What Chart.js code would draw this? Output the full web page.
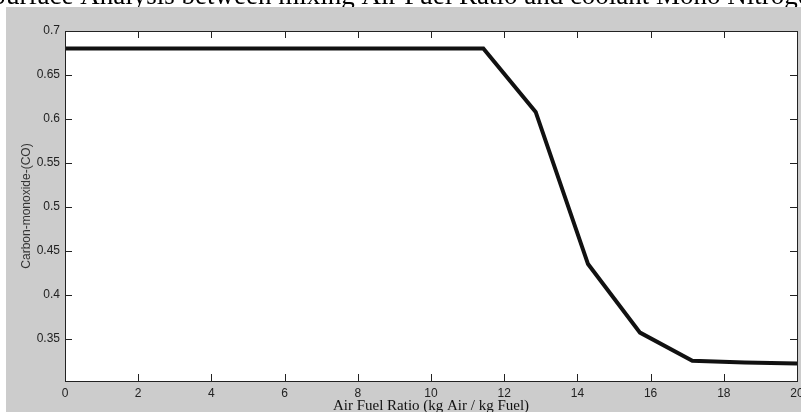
<!DOCTYPE html>
<html>
<head>
<meta charset="utf-8">
<script src="https://cdn.jsdelivr.net/npm/chart.js@4/dist/chart.umd.min.js"></script>
<style>
  html, body { margin: 0; padding: 0; background: #fff; }
  #wrap { position: relative; width: 801px; height: 412px; }
</style>
</head>
<body>
<div id="wrap"><canvas id="coChart" width="801" height="412"></canvas></div>
<script>
// values
const airFuelRatio = [0, 1.43, 2.86, 4.29, 5.71, 7.14, 8.57, 10, 11.43, 12.86, 14.29, 15.71, 17.14, 18.57, 20];
const carbonMonoxide = [0.68, 0.68, 0.68, 0.68, 0.68, 0.68, 0.68, 0.68, 0.68, 0.608, 0.435, 0.357, 0.325, 0.323, 0.322];
const yTicks = [0.35, 0.4, 0.45, 0.5, 0.55, 0.6, 0.65, 0.7];
const pageTitle = 'Surface Analysis between mixing Air Fuel Ratio and coolant Mono Nitrogen';

const points = airFuelRatio.map((x, i) => ({ x: x, y: carbonMonoxide[i] }));

// figure background, cut-off caption, white axes box
const backdrop = {
    id: 'backdrop',
    beforeDraw(chart) {
        const ctx = chart.ctx;
        const a = chart.chartArea;
        ctx.save();
        ctx.fillStyle = '#fff';
        ctx.fillRect(0, 0, chart.width, chart.height);
        ctx.fillStyle = '#000';
        ctx.font = '27px "Liberation Serif", "Times New Roman", serif';
        ctx.textBaseline = 'alphabetic';
        ctx.fillText(pageTitle, -9, 4);
        ctx.fillStyle = '#cccccc';
        ctx.fillRect(6, 7, chart.width - 6, chart.height - 7);
        ctx.fillStyle = '#fff';
        ctx.fillRect(a.left, a.top, a.right - a.left, a.bottom - a.top);
        ctx.restore();
    }
};

// box outline and inward ticks on all four sides
const boxTicks = {
    id: 'boxTicks',
    afterDraw(chart) {
        const ctx = chart.ctx;
        const a = chart.chartArea;
        const xs = chart.scales.x, ys = chart.scales.y;
        const len = 7;
        ctx.save();
        ctx.strokeStyle = '#222';
        ctx.lineWidth = 1;
        ctx.beginPath();
        xs.ticks.forEach(t => {
            const px = Math.round(xs.getPixelForValue(t.value)) + 0.5;
            ctx.moveTo(px, a.bottom); ctx.lineTo(px, a.bottom - len);
            ctx.moveTo(px, a.top); ctx.lineTo(px, a.top + len);
        });
        ys.ticks.forEach(t => {
            const py = Math.round(ys.getPixelForValue(t.value)) + 0.5;
            ctx.moveTo(a.left, py); ctx.lineTo(a.left + len, py);
            ctx.moveTo(a.right, py); ctx.lineTo(a.right - len, py);
        });
        ctx.stroke();
        ctx.strokeRect(Math.round(a.left) + 0.5, Math.round(a.top) + 0.5,
            Math.round(a.right - a.left), Math.round(a.bottom - a.top));
        ctx.restore();
    }
};

const ctx = document.getElementById('coChart').getContext('2d');
const coChart = new Chart(ctx, {
    type: 'line',
    data: {
        datasets: [{
            data: points,
            borderColor: '#111',
            borderWidth: 4,
            pointRadius: 0,
            tension: 0,
            fill: false
        }]
    },
    options: {
        responsive: false,
        animation: false,
        layout: { padding: { left: 0, top: 31, right: 4, bottom: 0 } },
        plugins: {
            legend: { display: false },
            tooltip: { enabled: false }
        },
        scales: {
            x: {
                type: 'linear',
                min: 0,
                max: 20,
                grid: { display: false, drawTicks: false },
                border: { display: false },
                ticks: {
                    stepSize: 2,
                    padding: 5,
                    maxRotation: 0,
                    color: '#222',
                    font: { family: '"Liberation Sans", Arial, sans-serif', size: 12 }
                },
                title: {
                    display: true,
                    text: 'Air Fuel Ratio (kg Air / kg Fuel)',
                    color: '#111',
                    padding: { top: 0, bottom: 0 },
                    font: { family: '"Liberation Serif", "Times New Roman", serif', size: 15, lineHeight: 0.8 }
                },
                afterFit(scale) {
                    scale.height = 31;
                    scale.paddingLeft = 0;
                    scale.paddingRight = 0;
                }
            },
            y: {
                min: 0.302,
                max: 0.7,
                grid: { display: false, drawTicks: false },
                border: { display: false },
                afterBuildTicks(scale) { scale.ticks = yTicks.map(v => ({ value: v })); },
                ticks: {
                    padding: 5,
                    color: '#222',
                    callback: v => String(+v.toFixed(2)),
                    font: { family: '"Liberation Sans", Arial, sans-serif', size: 12 }
                },
                title: {
                    display: true,
                    text: 'Carbon-monoxide-(CO)',
                    color: '#333',
                    padding: { top: 21, bottom: 0 },
                    font: { family: '"Liberation Sans", Arial, sans-serif', size: 12, lineHeight: 1 }
                },
                afterFit(scale) { scale.width = 65; }
            }
        }
    },
    plugins: [backdrop, boxTicks]
});
</script>
</body>
</html>
